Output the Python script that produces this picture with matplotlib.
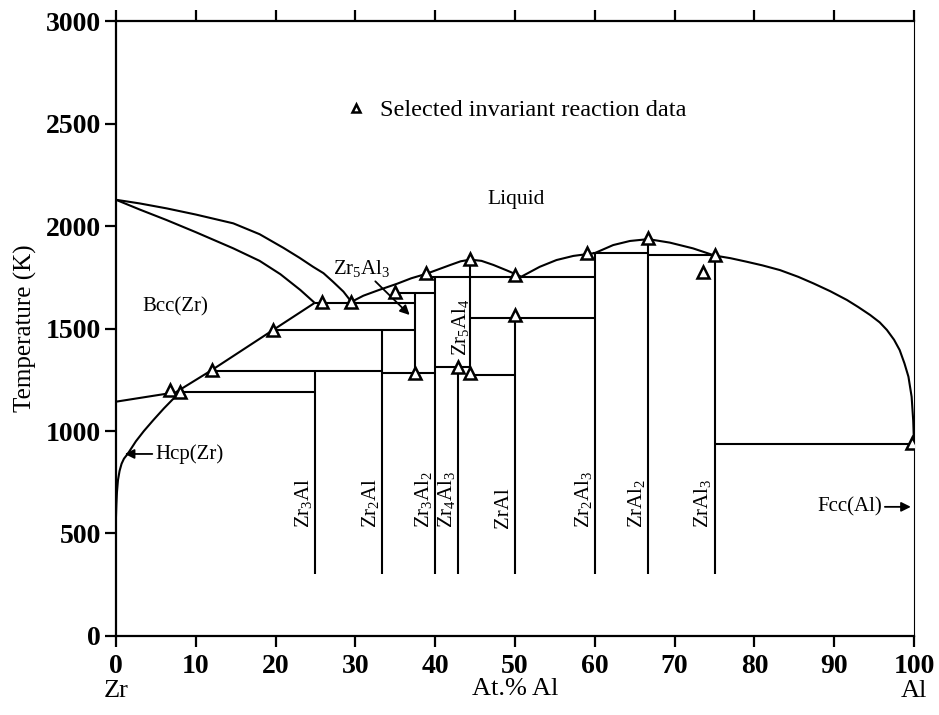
import matplotlib
matplotlib.use('Agg')
import matplotlib.pyplot as plt

# Estilo: fonte serifada tipo Times, como na figura original
plt.rcParams['font.family'] = 'serif'
plt.rcParams['font.serif'] = ['Liberation Serif', 'DejaVu Serif']
plt.rcParams['mathtext.fontset'] = 'custom'
plt.rcParams['mathtext.rm'] = 'Liberation Serif'
plt.rcParams['mathtext.default'] = 'regular'

# Liquidus da fase Bcc(Zr) (curva superior) e solidus (curva inferior)
bcc_liq_x = [0, 3, 6.35, 10, 14.7, 18, 21, 23, 24.7, 26, 27.2, 28.5, 29.5]
bcc_liq_t = [2128, 2110, 2086, 2056, 2013, 1960, 1893, 1845, 1801, 1770, 1728, 1680, 1630]
bcc_sol_x = [0, 3, 6.35, 10, 14.7, 18, 20.6, 23.1, 24.9]
bcc_sol_t = [2128, 2080, 2029, 1970, 1891, 1830, 1765, 1688, 1625]

# Limite inferior do Bcc(Zr)
bcc_low_x = [7.5, 12, 19.7, 24.9]
bcc_low_t = [1189, 1297, 1493, 1625]
hcp_bcc_x = [0, 7.5]
hcp_bcc_t = [1143, 1189]

# Solvus do Hcp(Zr)
hcp_x = [0, 0.05, 0.12, 0.25, 0.45, 0.7, 1.0, 1.5, 2.5, 3.5, 4.7, 6.0, 7.0, 8.0]
hcp_t = [580, 640, 700, 760, 805, 840, 865, 890, 950, 1000, 1054, 1110, 1150, 1189]

# Liquidus central (intermetalicos)
mid_liq_x = [29.5, 31, 33.1, 35.2, 37, 38.9, 41.9, 43.2, 44.4, 45.8, 47.3, 49, 50.8,
             53.1, 55.2, 57.3, 60, 62.3, 64.4, 66.7, 69.4, 72.3, 75]
mid_liq_t = [1630, 1660, 1690, 1718, 1745, 1767, 1810, 1828, 1836, 1830, 1810, 1783, 1753,
             1801, 1834, 1854, 1868, 1907, 1927, 1936, 1919, 1891, 1856]

# Liquidus do lado Al
al_liq_x = [75, 77, 79, 81, 83.2, 85.5, 87.4, 89.5, 91.6, 93, 94.5, 95.7, 96.6, 97.5,
            98.2, 98.8, 99.3, 99.7, 99.9, 100]
al_liq_t = [1856, 1843, 1826, 1808, 1785, 1752, 1720, 1682, 1639, 1605, 1566, 1530, 1493, 1445,
            1395, 1330, 1265, 1167, 1050, 935]

# Linhas invariantes horizontais: temperatura, x inicial, x final
inv_t = [1189, 1293, 1493, 1625, 1675, 1752, 1550, 1314, 1282, 1273, 1867, 1858, 938]
inv_x0 = [7.5, 12, 19.7, 24.9, 35, 38.9, 44.4, 40, 33.3, 44.4, 59.8, 66.7, 75]
inv_x1 = [25, 33.3, 37.5, 37.5, 40, 60, 60, 44.4, 40, 50, 66.7, 75, 100]

# Compostos (linhas verticais)
comp_names = ['Zr$_3$Al', 'Zr$_2$Al', 'Zr$_3$Al$_2$', 'Zr$_4$Al$_3$', 'ZrAl',
              'Zr$_2$Al$_3$', 'ZrAl$_2$', 'ZrAl$_3$']
comp_x = [25, 33.3, 40, 42.9, 50, 60, 66.7, 75]
comp_top = [1293, 1493, 1752, 1314, 1550, 1867, 1936, 1858]
comp_bottom = 300
zr5al3_x, zr5al3_t = 37.5, [1282, 1675]
zr5al4_x, zr5al4_t = 44.4, [1273, 1836]

# Dados selecionados de reacoes invariantes
exp_x = [6.8, 8.0, 12.0, 19.7, 25.8, 29.5, 35.0, 38.9, 37.5, 42.8, 44.4, 44.4,
         50.0, 50.0, 59.0, 66.7, 75.1, 73.6, 99.8]
exp_t = [1200, 1192, 1297, 1493, 1630, 1630, 1680, 1769, 1282, 1314, 1281, 1838,
         1566, 1762, 1870, 1940, 1858, 1777, 940]

fig = plt.figure(figsize=(9.39, 7.15), dpi=100)
ax = fig.add_axes([0.1235, 0.1105, 0.8499, 0.8601])

lw = 1.5
kw = dict(color='black', linewidth=lw, solid_capstyle='butt')

for xs, ts in [(bcc_liq_x, bcc_liq_t), (bcc_sol_x, bcc_sol_t), (bcc_low_x, bcc_low_t),
               (hcp_bcc_x, hcp_bcc_t), (hcp_x, hcp_t), (mid_liq_x, mid_liq_t),
               (al_liq_x, al_liq_t)]:
    ax.plot(xs, ts, **kw)

ax.hlines(inv_t, inv_x0, inv_x1, colors='black', linewidth=lw)
ax.vlines(comp_x, comp_bottom, comp_top, colors='black', linewidth=lw)
ax.vlines([zr5al3_x, zr5al4_x], [zr5al3_t[0], zr5al4_t[0]], [zr5al3_t[1], zr5al4_t[1]],
          colors='black', linewidth=lw)

pts, = ax.plot(exp_x, exp_t, linestyle='none', marker='^', markersize=8,
               markerfacecolor='white', markeredgecolor='black', markeredgewidth=1.8,
               zorder=5, label='Selected invariant reaction data')

# Rotulos dos compostos (verticais)
for name, x in zip(comp_names, comp_x):
    ax.text(x - 1.45, 525, name, rotation=90, ha='center', va='bottom', fontsize=15)

ax.text(43.2, 1505, 'Zr$_5$Al$_4$', rotation=90, ha='center', va='center', fontsize=15)
ax.text(50.2, 2127, 'Liquid', ha='center', va='center', fontsize=15.5)
ax.text(7.4, 1605, 'Bcc(Zr)', ha='center', va='center', fontsize=15)

arrow = dict(arrowstyle='-|>', color='black', lw=1.3, mutation_scale=14, shrinkA=0, shrinkB=0)
ax.annotate('Zr$_5$Al$_3$', xy=(36.8, 1566), xytext=(30.8, 1795), fontsize=15,
            ha='center', va='center', arrowprops=arrow)
ax.annotate('Hcp(Zr)', xy=(1.1, 888), xytext=(4.9, 888), fontsize=15,
            ha='left', va='center', arrowprops=dict(arrow, relpos=(0, 0.5)))
ax.annotate('Fcc(Al)', xy=(99.6, 630), xytext=(96.0, 630), fontsize=15,
            ha='right', va='center', arrowprops=dict(arrow, relpos=(1, 0.5)))

ax.legend(handles=[pts], loc='center left', bbox_to_anchor=(0.2865, 0.8553),
          frameon=False, fontsize=17.5, borderpad=0, borderaxespad=0,
          handlelength=0.9, handletextpad=0.55, markerscale=0.8)

ax.set_xlim(0, 100)
ax.set_ylim(0, 3000)
ax.set_xticks(range(0, 101, 10))
ax.set_yticks(range(0, 3001, 500))
ax.tick_params(direction='out', length=8, width=1.6, labelsize=20, top=True, pad=3)
ax.tick_params(axis='x', pad=5)
plt.setp(ax.get_xticklabels() + ax.get_yticklabels(), fontweight='bold')

for side in ['left', 'bottom', 'top']:
    ax.spines[side].set_linewidth(1.6)
ax.spines['right'].set_linewidth(0.8)

ax.set_ylabel('Temperature (K)', fontsize=18, labelpad=6)
ax.set_xlabel('At.% Al', fontsize=19, labelpad=-1)
ax.text(0, -0.09, 'Zr', transform=ax.get_xaxis_transform(), ha='center', va='center', fontsize=19)
ax.text(100, -0.09, 'Al', transform=ax.get_xaxis_transform(), ha='center', va='center', fontsize=19)

fig.savefig('out.png', dpi=100)
